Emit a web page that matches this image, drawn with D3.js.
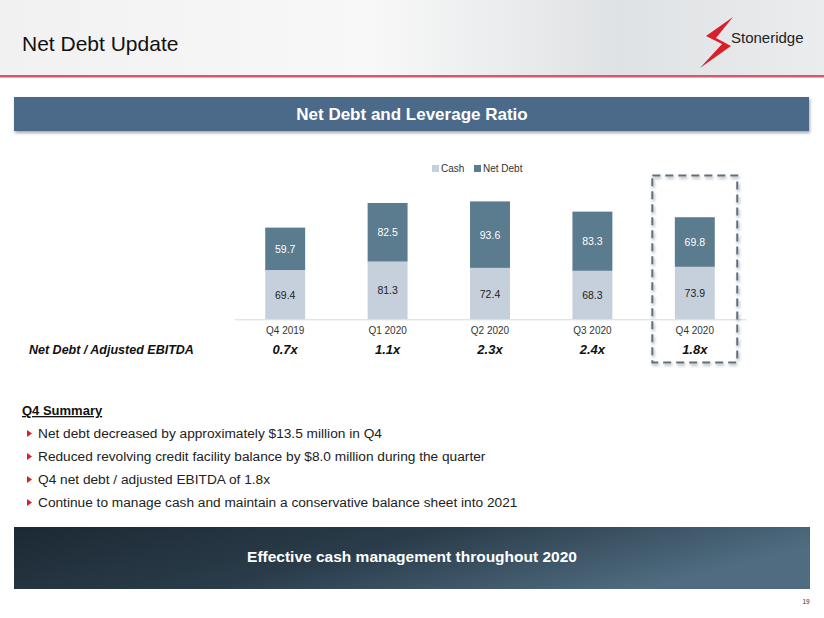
<!DOCTYPE html>
<html><head><meta charset="utf-8">
<script src="https://cdn.jsdelivr.net/npm/d3@7"></script>
<style>body{margin:0;background:#fff;}svg{display:block;font-family:"Liberation Sans",Arial,sans-serif;}</style>
</head><body>
<svg id="c" width="824" height="618"></svg>
<script>
const categories = ["Q4 2019","Q1 2020","Q2 2020","Q3 2020","Q4 2020"];
const cash = [69.4, 81.3, 72.4, 68.3, 73.9];
const netDebt = [59.7, 82.5, 93.6, 83.3, 69.8];
const ratios = ["0.7x","1.1x","2.3x","2.4x","1.8x"];
const seriesNames = ["Cash","Net Debt"];
const bullets = [
  "Net debt decreased by approximately $13.5 million in Q4",
  "Reduced revolving credit facility balance by $8.0 million during the quarter",
  "Q4 net debt / adjusted EBITDA of 1.8x",
  "Continue to manage cash and maintain a conservative balance sheet into 2021"
];
const colors = {"Cash":"#c5d0dc","Net Debt":"#5b7b8e"};

const svg = d3.select("#c");
const defs = svg.append("defs");
const hg = defs.append("linearGradient").attr("id","hg").attr("x1",0).attr("x2",1).attr("y1",0).attr("y2",0);
hg.append("stop").attr("offset","0").attr("stop-color","#f1f1f1");
hg.append("stop").attr("offset","0.45").attr("stop-color","#f8f8f8");
hg.append("stop").attr("offset","0.75").attr("stop-color","#dfe2e4");
hg.append("stop").attr("offset","1").attr("stop-color","#eaecee");
const bg = defs.append("linearGradient").attr("id","bg").attr("x1",0).attr("x2",1).attr("y1",0).attr("y2",0.3);
bg.append("stop").attr("offset","0").attr("stop-color","#1c2933");
bg.append("stop").attr("offset","0.5").attr("stop-color","#2a3c4a");
bg.append("stop").attr("offset","1").attr("stop-color","#4f6c80");
const sh = defs.append("filter").attr("id","sh").attr("x","-10%").attr("y","-10%").attr("width","130%").attr("height","140%");
sh.append("feDropShadow").attr("dx",1).attr("dy",2).attr("stdDeviation",1.5).attr("flood-color","#000").attr("flood-opacity",0.35);

// header
svg.append("rect").attr("x",0).attr("y",0).attr("width",824).attr("height",75).attr("fill","url(#hg)");
svg.append("rect").attr("x",0).attr("y",75).attr("width",824).attr("height",2.5).attr("fill","#d8586a");
svg.append("text").attr("x",22).attr("y",51).attr("font-size",21).attr("fill","#111").text("Net Debt Update");
const lg = svg.append("g");
lg.append("path").attr("d","M733,17 L706,36 L722,44 L700,68 L731,46 L716,38 Z").attr("fill","#d8202a");
lg.append("text").attr("x",731).attr("y",43).attr("font-size",15).attr("fill","#222").text("Stoneridge");

// section banner
svg.append("rect").attr("x",14).attr("y",97).attr("width",795).attr("height",34).attr("fill","#4b6a8a").attr("filter","url(#sh)");
svg.append("text").attr("x",412).attr("y",120).attr("text-anchor","middle").attr("font-size",17).attr("font-weight","bold").attr("fill","#fff").text("Net Debt and Leverage Ratio");

// chart
const x = d3.scaleBand().domain(categories).range([234,746]).paddingInner(0.61).paddingOuter(0.305);
const y = d3.scaleLinear().domain([0,166]).range([319.3,201.4]);
const data = categories.map((c,i)=>({cat:c,Cash:cash[i],"Net Debt":netDebt[i]}));
const stack = d3.stack().keys(seriesNames)(data);
const g = svg.append("g");
stack.forEach(s=>{
  g.selectAll(null).data(s).enter().append("rect")
    .attr("x",d=>x(d.data.cat)).attr("width",x.bandwidth())
    .attr("y",d=>y(d[1])).attr("height",d=>y(d[0])-y(d[1]))
    .attr("fill",colors[s.key]);
  g.selectAll(null).data(s).enter().append("text")
    .attr("x",d=>x(d.data.cat)+x.bandwidth()/2)
    .attr("y",d=>(y(d[0])+y(d[1]))/2+4)
    .attr("text-anchor","middle").attr("font-size",10.5)
    .attr("fill",s.key==="Cash"?"#222":"#fff")
    .text(d=>d.data[s.key].toFixed(1));
});
const ax = g.append("g").attr("transform","translate(0,319.3)").call(d3.axisBottom(x).tickSize(0).tickPadding(8));
ax.select(".domain").attr("stroke","#d9d9d9");
ax.selectAll("text").attr("font-size",10).attr("fill","#333").attr("font-family","Liberation Sans, Arial, sans-serif");
g.selectAll(null).data(ratios).enter().append("text")
  .attr("x",(d,i)=>x(categories[i])+x.bandwidth()/2).attr("y",354)
  .attr("text-anchor","middle").attr("font-size",13).attr("font-weight","bold").attr("font-style","italic").attr("fill","#111").text(d=>d);
svg.append("text").attr("x",29).attr("y",354).attr("font-size",12.5).attr("font-weight","bold").attr("font-style","italic").attr("fill","#111").text("Net Debt / Adjusted EBITDA");
const leg = svg.append("g");
const legX = [432,474];
seriesNames.forEach((n,i)=>{
  leg.append("rect").attr("x",legX[i]).attr("y",165).attr("width",7).attr("height",7).attr("fill",colors[n]);
  leg.append("text").attr("x",legX[i]+9).attr("y",172).attr("font-size",10).attr("fill","#333").text(n);
});
const hx = x("Q4 2020");
svg.append("rect").attr("x",hx-22.5).attr("y",175.5).attr("width",x.bandwidth()+45).attr("height",187)
  .attr("fill","none").attr("stroke","#5f6f7c").attr("stroke-width",2).attr("stroke-dasharray","8,5").attr("filter","url(#sh)");

// summary
svg.append("text").attr("x",22).attr("y",415).attr("font-size",13).attr("font-weight","bold").attr("text-decoration","underline").attr("fill","#111").text("Q4 Summary");
bullets.forEach((b,i)=>{
  const yy = 438+i*23;
  svg.append("path").attr("d",`M27,${yy-8} L32,${yy-4.5} L27,${yy-1} Z`).attr("fill","#d8202a");
  svg.append("text").attr("x",38).attr("y",yy).attr("font-size",13.7).attr("fill","#222").text(b);
});

// bottom banner
svg.append("rect").attr("x",14).attr("y",527).attr("width",796).attr("height",62).attr("fill","url(#bg)");
svg.append("text").attr("x",412).attr("y",562).attr("text-anchor","middle").attr("font-size",15.5).attr("font-weight","bold").attr("fill","#fff").text("Effective cash management throughout 2020");
svg.append("text").attr("x",806).attr("y",604).attr("text-anchor","middle").attr("font-size",6.5).attr("fill","#333").text("19");
</script>
</body></html>
